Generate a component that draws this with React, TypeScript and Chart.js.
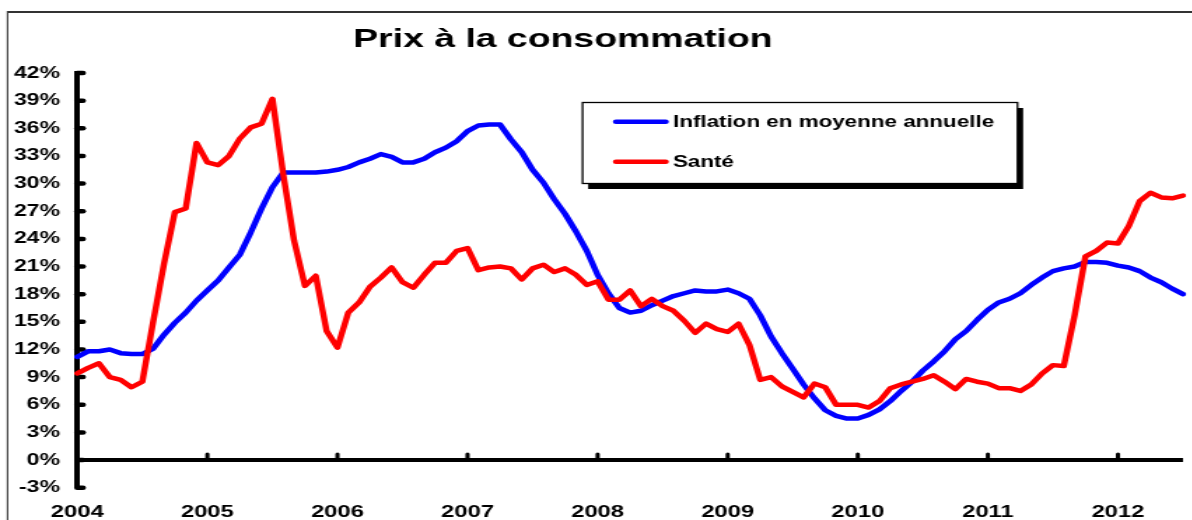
import React, { useEffect, useRef } from 'react';
import { Chart, registerables } from 'chart.js';

Chart.register(...registerables);

// ---- data ----
const YEARS = ['2004', '2005', '2006', '2007', '2008', '2009', '2010', '2011', '2012'];
const MONTHS_IN_LAST_YEAR = 7;
const CATEGORIES: string[] = YEARS.flatMap((y, yi) =>
  Array.from({ length: yi === YEARS.length - 1 ? MONTHS_IN_LAST_YEAR : 12 }, (_, m) => `${y}-${String(m + 1).padStart(2, '0')}`)
);

const INFLATION = [
  11.2, 11.8, 11.8, 12.0, 11.6, 11.5, 11.5, 12.1, 13.6, 14.9,
  16.0, 17.3, 18.4, 19.5, 20.9, 22.3, 24.7, 27.3, 29.6, 31.2,
  31.2, 31.2, 31.2, 31.3, 31.5, 31.8, 32.3, 32.7, 33.2, 32.9,
  32.3, 32.3, 32.7, 33.4, 33.9, 34.6, 35.7, 36.3, 36.4, 36.4,
  34.8, 33.4, 31.5, 30.1, 28.3, 26.7, 24.8, 22.7, 20.1, 18.1,
  16.5, 16.0, 16.2, 16.8, 17.3, 17.8, 18.1, 18.4, 18.3, 18.3,
  18.5, 18.1, 17.5, 15.7, 13.4, 11.6, 9.9, 8.2, 6.7, 5.4,
  4.8, 4.5, 4.5, 4.9, 5.5, 6.4, 7.5, 8.5, 9.7, 10.7,
  11.8, 13.1, 14.0, 15.2, 16.3, 17.1, 17.5, 18.1, 19.0, 19.8,
  20.5, 20.8, 21.0, 21.5, 21.5, 21.4, 21.1, 20.9, 20.5, 19.8,
  19.3, 18.6, 18.0,
];

const SANTE = [
  9.4, 10.0, 10.5, 9.0, 8.7, 7.9, 8.5, 15.0, 21.3, 26.9,
  27.3, 34.4, 32.3, 32.0, 33.0, 34.9, 36.1, 36.5, 39.2, 31.0,
  23.8, 18.9, 20.0, 14.0, 12.2, 16.0, 17.1, 18.8, 19.8, 20.9,
  19.3, 18.7, 20.1, 21.4, 21.4, 22.7, 23.0, 20.6, 20.9, 21.0,
  20.8, 19.6, 20.8, 21.2, 20.4, 20.8, 20.1, 19.0, 19.4, 17.4,
  17.4, 18.4, 16.7, 17.5, 16.7, 16.2, 15.1, 13.8, 14.8, 14.2,
  13.9, 14.8, 12.5, 8.7, 9.0, 8.0, 7.4, 6.8, 8.3, 7.9,
  6.0, 6.0, 6.0, 5.7, 6.4, 7.8, 8.2, 8.5, 8.8, 9.2,
  8.5, 7.7, 8.8, 8.5, 8.3, 7.8, 7.8, 7.5, 8.2, 9.4,
  10.3, 10.2, 15.7, 22.1, 22.7, 23.6, 23.5, 25.4, 28.1, 29.0,
  28.5, 28.4, 28.7,
];

const Y_MIN = -3;
const Y_MAX = 42;
const Y_STEP = 3;
const TITLE = 'Prix à la consommation';
const SERIES_NAMES = ['Inflation en moyenne annuelle', 'Santé'];
const SERIES_COLORS = ['#0000FF', '#FF0000'];

// ---- layout (logical units; the whole drawing is stretched horizontally by STRETCH) ----
const STRETCH = 1.4;
const W = 859;
const H = 540;
const FONT = '"Liberation Sans", Arial, Helvetica, sans-serif';
const PLOT_LEFT = 55.2;
const PLOT_TOP = 73;
const PLOT_BOTTOM = 487.7;

const decorPlugin = {
  id: 'decor',
  beforeDraw(chart: any) {
    const { ctx, width, height } = chart;
    ctx.save();
    ctx.fillStyle = '#fff';
    ctx.fillRect(0, 0, width, height);
    ctx.strokeStyle = '#333';
    ctx.lineWidth = 2;
    ctx.beginPath();
    ctx.moveTo(5.4, 12);
    ctx.lineTo(width, 12);
    ctx.stroke();
    ctx.lineWidth = 1.1;
    ctx.beginPath();
    ctx.moveTo(5.4, 11);
    ctx.lineTo(5.4, height);
    ctx.stroke();
    ctx.restore();
  },
  beforeDatasetsDraw(chart: any) {
    const { ctx } = chart;
    const x = chart.scales.x;
    const y = chart.scales.y;
    const y0 = y.getPixelForValue(0);
    ctx.save();
    ctx.strokeStyle = '#000';
    // zero line
    ctx.lineWidth = 4;
    ctx.beginPath();
    ctx.moveTo(x.left, y0);
    ctx.lineTo(x.right, y0);
    ctx.stroke();
    // year ticks on the zero line
    ctx.lineWidth = 3;
    ctx.lineCap = 'round';
    YEARS.forEach((_, k) => {
      if (k === 0) return;
      const px = x.getPixelForValue(k * 12);
      ctx.beginPath();
      ctx.moveTo(px, y0);
      ctx.lineTo(px, y0 - 6);
      ctx.stroke();
    });
    // inward ticks on the y axis
    ctx.lineWidth = 4.5;
    y.ticks.forEach((t: any) => {
      const py = y.getPixelForValue(t.value);
      ctx.beginPath();
      ctx.moveTo(y.right, py);
      ctx.lineTo(y.right + 4, py);
      ctx.stroke();
    });
    ctx.restore();
  },
  afterDraw(chart: any) {
    const { ctx } = chart;
    ctx.save();
    // title
    ctx.fillStyle = '#000';
    ctx.font = `bold 26.7px ${FONT}`;
    ctx.textAlign = 'center';
    ctx.textBaseline = 'alphabetic';
    ctx.fillText(TITLE, 402.1, 46.7);
    // legend box with shadow
    const bx = 416.1, by = 102.5, bw = 310.7, bh = 81;
    ctx.fillStyle = '#000';
    ctx.fillRect(bx + 4, by + 5.5, bw, bh);
    ctx.fillStyle = '#fff';
    ctx.fillRect(bx, by, bw, bh);
    ctx.strokeStyle = '#000';
    ctx.lineWidth = 1.3;
    ctx.strokeRect(bx, by, bw, bh);
    const lineYs = [121.7, 161.7];
    const textYs = [126.7, 167.3];
    chart.data.datasets.forEach((ds: any, i: number) => {
      ctx.strokeStyle = ds.borderColor;
      ctx.lineWidth = 4.5;
      ctx.lineCap = 'round';
      ctx.beginPath();
      ctx.moveTo(440, lineYs[i]);
      ctx.lineTo(475.5, lineYs[i]);
      ctx.stroke();
      ctx.fillStyle = '#000';
      ctx.font = `bold 16px ${FONT}`;
      ctx.textAlign = 'left';
      ctx.fillText(ds.label, 480.7, textYs[i]);
    });
    ctx.restore();
  },
};

export default function App() {
  const ref = useRef<HTMLCanvasElement>(null);

  useEffect(() => {
    if (!ref.current) return;
    const chart = new Chart(ref.current, {
      type: 'line',
      data: {
        labels: CATEGORIES,
        datasets: [
          {
            label: SERIES_NAMES[0],
            data: INFLATION,
            borderColor: SERIES_COLORS[0],
            backgroundColor: SERIES_COLORS[0],
            order: 1,
          },
          {
            label: SERIES_NAMES[1],
            data: SANTE,
            borderColor: SERIES_COLORS[1],
            backgroundColor: SERIES_COLORS[1],
            order: 0,
          },
        ],
      },
      options: {
        responsive: false,
        animation: false,
        devicePixelRatio: 1,
        layout: { padding: { top: PLOT_TOP, right: 0, bottom: 0, left: 0 } },
        plugins: {
          legend: { display: false },
          title: { display: false },
          tooltip: { enabled: false },
        },
        elements: {
          point: { radius: 0, hoverRadius: 0 },
          line: { borderWidth: 4.5, tension: 0, borderJoinStyle: 'round', borderCapStyle: 'round' },
        },
        scales: {
          x: {
            type: 'category',
            grid: { display: false, drawTicks: false },
            border: { display: false },
            ticks: {
              autoSkip: false,
              maxRotation: 0,
              minRotation: 0,
              padding: 14,
              color: '#000',
              font: { family: FONT, size: 17, weight: 'bold' },
              callback: (_v: any, i: number) => (i % 12 === 0 ? YEARS[i / 12] : ''),
            },
            afterFit: (s: any) => {
              s.height = H - PLOT_BOTTOM;
            },
          },
          y: {
            min: Y_MIN,
            max: Y_MAX,
            grid: { display: true, drawOnChartArea: false, drawTicks: false },
            border: { display: true, color: '#000', width: 4 },
            ticks: {
              stepSize: Y_STEP,
              padding: 12.3,
              color: '#000',
              font: { family: FONT, size: 16.5, weight: 'bold' },
              callback: (v: any) => `${v}%`,
            },
            afterFit: (s: any) => {
              s.width = PLOT_LEFT;
            },
          },
        },
      } as any,
      plugins: [decorPlugin],
    });
    return () => chart.destroy();
  }, []);

  return (
    <div
      style={{
        position: 'absolute',
        left: 0,
        top: 0,
        width: 1192,
        height: 520,
        overflow: 'hidden',
        background: '#fff',
      }}
    >
      <div style={{ width: W, height: H, transform: `scaleX(${STRETCH})`, transformOrigin: '0 0' }}>
        <canvas ref={ref} width={W} height={H} style={{ display: 'block', width: W, height: H }} />
      </div>
    </div>
  );
}
